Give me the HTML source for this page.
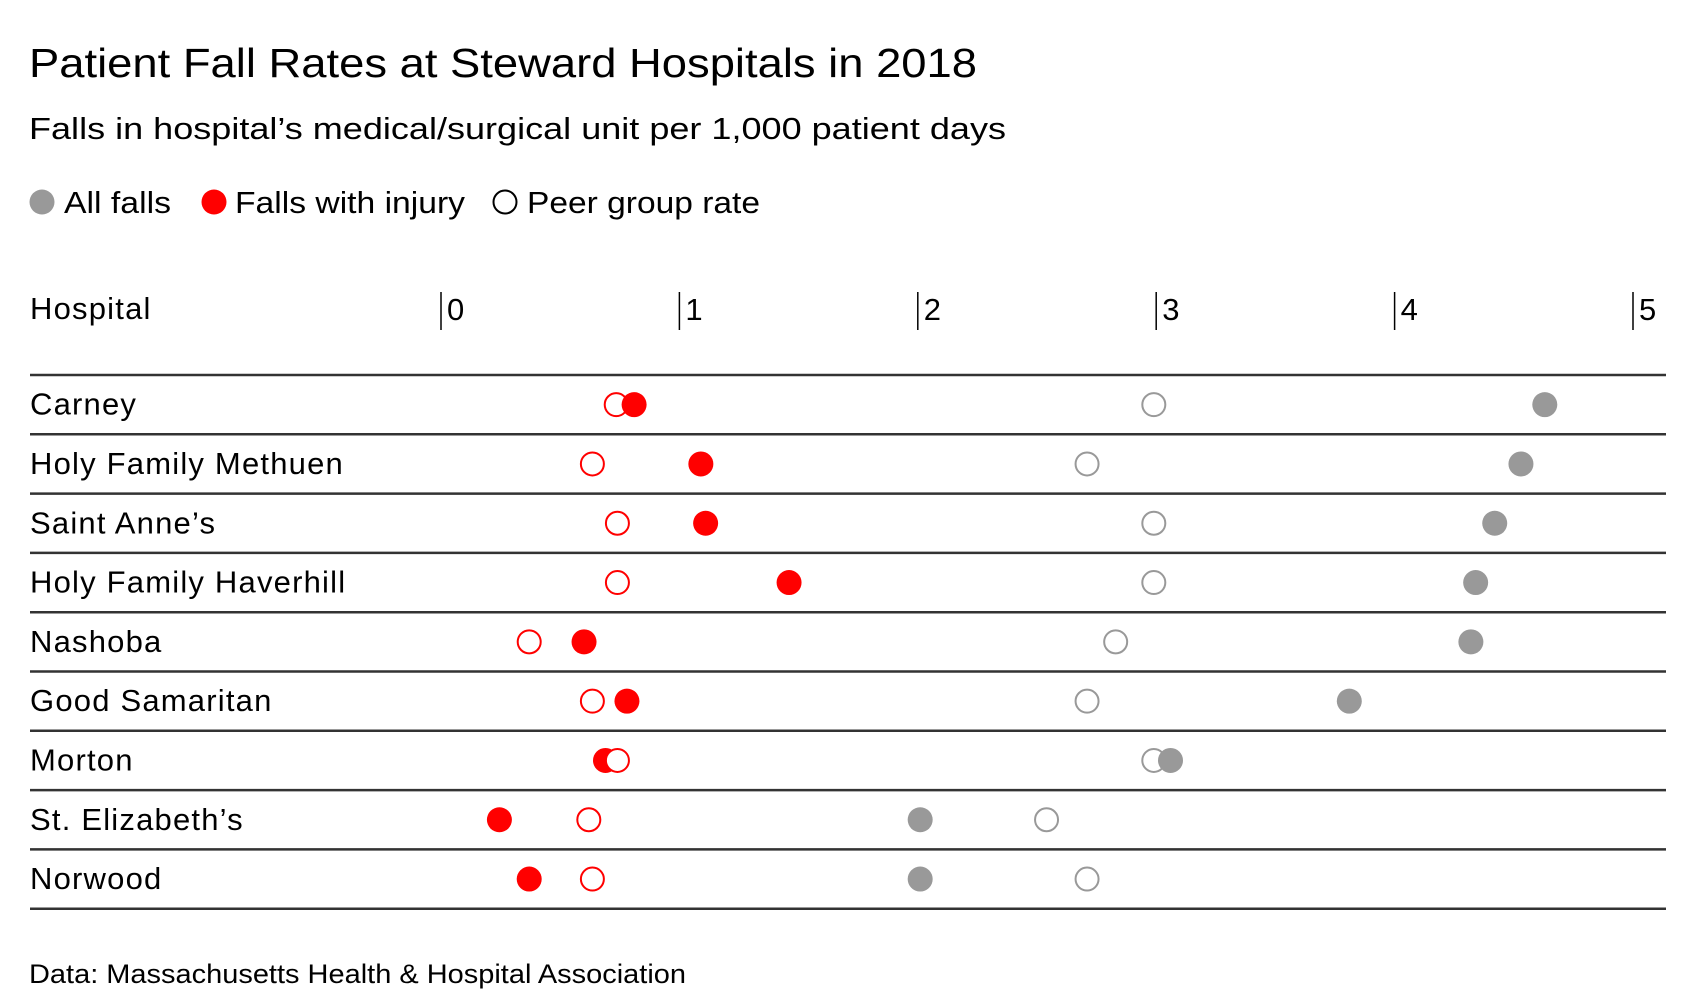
<!DOCTYPE html>
<html><head><meta charset="utf-8"><style>
html,body{margin:0;padding:0;background:#fff;}
svg{display:block;font-family:"Liberation Sans",Arial,sans-serif;}
</style></head><body>
<svg id="chart" width="1696" height="1008" viewBox="0 0 1696 1008" xmlns="http://www.w3.org/2000/svg">
<text x="29" y="77" font-size="41" fill="#000" textLength="948" lengthAdjust="spacingAndGlyphs">Patient Fall Rates at Steward Hospitals in 2018</text>
<text x="29" y="139" font-size="31" fill="#000" textLength="977" lengthAdjust="spacingAndGlyphs">Falls in hospital’s medical/surgical unit per 1,000 patient days</text>
<g>
<g><circle cx="42" cy="202" r="12.5" fill="#999"/><text x="64" y="213" font-size="31" textLength="107" lengthAdjust="spacingAndGlyphs">All falls</text></g>
<g><circle cx="214" cy="202" r="12.5" fill="#f00"/><text x="235" y="213" font-size="31" textLength="230" lengthAdjust="spacingAndGlyphs">Falls with injury</text></g>
<g><circle cx="505" cy="202" r="11.5" fill="#fff" stroke="#000" stroke-width="2"/><text x="527" y="213" font-size="31" textLength="233" lengthAdjust="spacingAndGlyphs">Peer group rate</text></g>
</g>
<text x="30" y="319" font-size="31" letter-spacing="1.2">Hospital</text>
<g id="axis"></g>
<g id="rows"></g>
<text x="29" y="983" font-size="27" textLength="657" lengthAdjust="spacingAndGlyphs">Data: Massachusetts Health &amp; Hospital Association</text>
</svg>
<script>
const hospitals = ["Carney","Holy Family Methuen","Saint Anne’s","Holy Family Haverhill","Nashoba","Good Samaritan","Morton","St. Elizabeth’s","Norwood"];
const allFalls = [4.63,4.53,4.42,4.34,4.32,3.81,3.06,2.01,2.01];
const allPeer = [2.99,2.71,2.99,2.99,2.83,2.71,2.99,2.54,2.71];
const injuryFalls = [0.81,1.09,1.11,1.46,0.60,0.78,0.69,0.245,0.37];
const injuryPeer = [0.735,0.635,0.74,0.74,0.37,0.635,0.74,0.62,0.635];
const ticks = [0,1,2,3,4,5];

const NS = "http://www.w3.org/2000/svg";
const x = v => 441 + v * 238.4;
const rowTop = 375, rowH = 59.3;
const y = i => rowTop + rowH * (i + 0.5);

const axis = document.getElementById('axis');
ticks.forEach(t => {
  const l = document.createElementNS(NS, 'line');
  
  
  l.setAttribute('x1', x(t)); l.setAttribute('x2', x(t));
  l.setAttribute('y1', 292); l.setAttribute('y2', 330);
  l.setAttribute('stroke', '#000'); l.setAttribute('stroke-width', 1.5);
  axis.appendChild(l);
  const tx = document.createElementNS(NS, 'text');
  
  
  tx.setAttribute('x', x(t) + 6); tx.setAttribute('y', 320);
  tx.setAttribute('font-size', 31);
  tx.textContent = t;
  axis.appendChild(tx);
});

const rows = document.getElementById('rows');
function line(yy, name) {
  const l = document.createElementNS(NS, 'line');
  
  
  l.setAttribute('x1', 30); l.setAttribute('x2', 1666);
  l.setAttribute('y1', yy); l.setAttribute('y2', yy);
  l.setAttribute('stroke', '#333'); l.setAttribute('stroke-width', 2.5);
  rows.appendChild(l);
}
line(rowTop, 'row-divider-top');
hospitals.forEach((h, i) => {
  const g = document.createElementNS(NS, 'g');
  
  
  const t = document.createElementNS(NS, 'text');
  
  
  t.setAttribute('x', 30); t.setAttribute('y', y(i) + 10);
  t.setAttribute('font-size', 31);
  t.setAttribute('letter-spacing', 1.2);
  t.textContent = h;
  g.appendChild(t);
  const marks = [
    {v: allFalls[i], fill: '#999', stroke: 'none', name: 'all-falls-dot'},
    {v: allPeer[i], fill: '#fff', stroke: '#999', name: 'all-falls-peer-dot'},
    {v: injuryFalls[i], fill: '#f00', stroke: 'none', name: 'injury-falls-dot'},
    {v: injuryPeer[i], fill: '#fff', stroke: '#f00', name: 'injury-peer-dot'}
  ].sort((a, b) => a.v - b.v);
  marks.forEach(m => {
    const c = document.createElementNS(NS, 'circle');
    
    
    c.setAttribute('cx', x(m.v)); c.setAttribute('cy', y(i));
    c.setAttribute('r', m.stroke === 'none' ? 12.5 : 11.5);
    c.setAttribute('fill', m.fill);
    if (m.stroke !== 'none') { c.setAttribute('stroke', m.stroke); c.setAttribute('stroke-width', 2); }
    g.appendChild(c);
  });
  rows.appendChild(g);
  line(rowTop + rowH * (i + 1), 'row-divider');
});
</script>
</body></html>
